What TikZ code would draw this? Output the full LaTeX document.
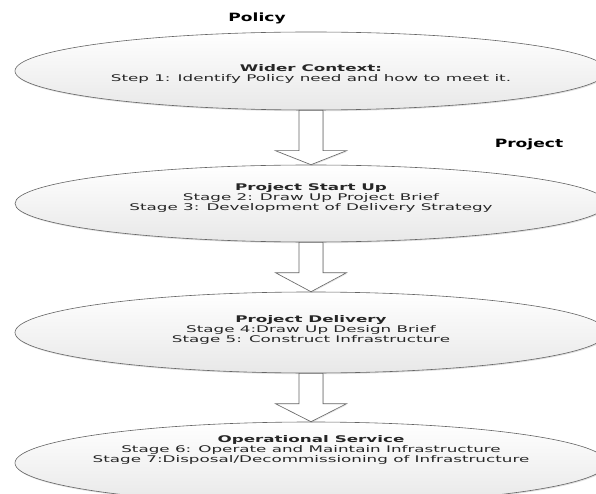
\documentclass[tikz,border=0pt]{standalone}
\usepackage{fontspec}
\setmainfont{DejaVu Sans}
\newfontfamily\widefont[FakeStretch=1.82]{DejaVu Sans}
\newfontfamily\titlefont[FakeStretch=1.5]{DejaVu Sans}
\usetikzlibrary{shapes.geometric,calc,shadows}
\definecolor{edge}{HTML}{646464}
\definecolor{shadebot}{HTML}{E8E8E8}
\tikzset{
  stageell/.style={ellipse, draw=edge, line width=0.6pt, top color=white, bottom color=shadebot,
    minimum width=592pt, inner sep=0pt,
    drop shadow={shadow xshift=0.8pt, shadow yshift=-1.2pt, opacity=0.25}},
  stagetext/.style={align=center, font=\widefont\fontsize{9.2}{10}\selectfont, text=black!85, inner sep=0pt},
  headtext/.style={font=\titlefont\fontsize{11.4}{12}\selectfont\bfseries, text=black, inner sep=0pt},
  blockarrow/.style={draw=edge, line width=0.6pt, fill=white,
    drop shadow={shadow xshift=0.8pt, shadow yshift=-1pt, opacity=0.2}}
}
\begin{document}
\begin{tikzpicture}[x=1pt,y=-1pt]
\useasboundingbox (0,0) rectangle (596,494);
\clip (0,0) rectangle (596,494);
\fill[white] (0,0) rectangle (596,494);

\node[stageell, minimum height=78pt] (e1) at (311,71) {};
\node[stageell, minimum height=77pt] (e2) at (311,203.5) {};
\node[stageell, minimum height=81pt] (e3) at (311,332.5) {};
\node[stageell, minimum height=82pt] (e4) at (311,463) {};

\node[headtext] (policy) at (257,18) {Policy};
\node[headtext] (project) at (529,144) {Project};

\node[stagetext] (t1) at (311,73.5) {\textbf{Wider Context:}\\Step 1: Identify Policy need and how to meet it.};
\node[stagetext] (t2) at (311,198) {\textbf{Project Start Up}\\Stage 2: Draw Up Project Brief\\Stage 3: Development of Delivery Strategy};
\node[stagetext] (t3) at (311,329.5) {\textbf{Project Delivery}\\Stage 4:Draw Up Design Brief\\Stage 5: Construct Infrastructure};
\node[stagetext] (t4) at (311,450) {\textbf{Operational Service}\\Stage 6: Operate and Maintain Infrastructure\\Stage 7:Disposal/Decommissioning of Infrastructure};

% block arrows
\path[blockarrow] let \p1=(e1.south), \p2=(e2.north) in
  (\x1-12,\y1) -- (\x1-12,\y2+14) -- (\x1-35.5,\y2+14) -- (\x2,\y2) -- (\x1+35.5,\y2+14) -- (\x1+12,\y2+14) -- (\x1+12,\y1) -- cycle;
\path[blockarrow] let \p1=(e2.south), \p2=(e3.north) in
  (\x1-12,\y1) -- (\x1-12,\y2+19) -- (\x1-35.5,\y2+19) -- (\x2,\y2) -- (\x1+35.5,\y2+19) -- (\x1+12,\y2+19) -- (\x1+12,\y1) -- cycle;
\path[blockarrow] let \p1=(e3.south), \p2=(e4.north) in
  (\x1-12,\y1) -- (\x1-12,\y2+18) -- (\x1-35.5,\y2+18) -- (\x2,\y2) -- (\x1+35.5,\y2+18) -- (\x1+12,\y2+18) -- (\x1+12,\y1) -- cycle;
\end{tikzpicture}
\end{document}
